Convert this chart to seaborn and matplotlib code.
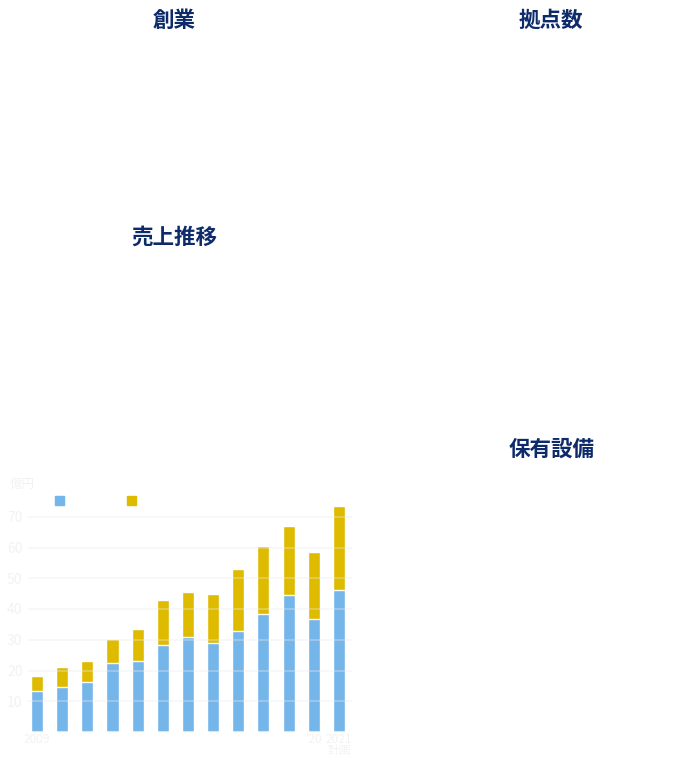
import matplotlib
matplotlib.use("Agg")
import matplotlib.pyplot as plt
import matplotlib.patches as mpatches
import seaborn as sns
import pandas as pd

years = ["2009", "2010", "2011", "2012", "2013", "2014", "2015",
         "2016", "2017", "2018", "2019", "2020", "2021"]
tick_labels = ["2009", "", "", "", "", "", "", "", "", "", "", "'20", "2021\n計画"]
blue_vals = [13.3, 14.7, 16.4, 22.5, 23.1, 28.3, 30.9, 29.0, 32.9, 38.5, 44.4, 36.6, 46.3]
total_vals = [18.2, 21.2, 23.1, 30.3, 33.5, 43.0, 45.6, 44.9, 53.1, 60.6, 67.1, 58.6, 73.6]
y_ticks = [10, 20, 30, 40, 50, 60, 70]
titles = ["創業", "拠点数", "売上推移", "保有設備"]

sns.set_theme(style="white")
plt.rcParams["font.family"] = ["Noto Sans CJK JP", "DejaVu Sans"]

BLUE = "#74b5ea"
YELLOW = "#dfbb00"
NAVY = "#0d2a6a"
FAINT = "#f2f2f2"

W, H = 687, 757
fig = plt.figure(figsize=(W / 100, H / 100), dpi=100)
fig.patch.set_facecolor("white")

left, right, top, bottom = 28, 352, 486, 732
ax = fig.add_axes([left / W, (H - bottom) / H, (right - left) / W, (bottom - top) / H])
ax.set_facecolor("white")

df = pd.DataFrame({"year": years, "blue": blue_vals, "total": total_vals})
sns.barplot(data=df, x="year", y="total", color=YELLOW, width=0.48,
            saturation=1, ax=ax, zorder=2)
sns.barplot(data=df, x="year", y="blue", color=BLUE, width=0.48,
            saturation=1, ax=ax, zorder=3)

ax.set_xlim(-0.36, 12.52)
ax.set_ylim(0, 80)
for v in y_ticks:
    ax.axhline(v, color="#eaeaea", alpha=0.4, lw=1.2, zorder=5)
ax.axhline(0, color="#ffffff", alpha=0.6, lw=1.5, zorder=5)

ax.set_yticks(y_ticks)
ax.set_yticklabels([str(v) for v in y_ticks], color=FAINT, fontsize=10)
ax.tick_params(axis="y", length=0, pad=4)
ax.set_xticks(range(len(years)))
ax.set_xticklabels(tick_labels, color=FAINT, fontsize=8.5, linespacing=0.8)
ax.tick_params(axis="x", length=0, pad=1)
ax.set_xlabel("")
ax.set_ylabel("")
for s in ax.spines.values():
    s.set_visible(False)

fig.text(10 / W, 1 - 484 / H, "億円", color=FAINT, fontsize=9, va="center", ha="left")

handles = [mpatches.Patch(color=BLUE), mpatches.Patch(color=YELLOW)]
fig.legend(handles, [" ", " "], loc="center left",
           bbox_to_anchor=(44 / W, 1 - 501.5 / H), ncol=2, frameon=False,
           handlelength=0.7, handleheight=0.7, columnspacing=4.5,
           handletextpad=0.3, fontsize=9)

pos = [(174, 20), (551, 20), (174, 237), (552, 449)]
for t, (x, y) in zip(titles, pos):
    fig.text(x / W, 1 - y / H, t, color=NAVY, fontsize=15.5, fontweight="bold",
             ha="center", va="center")

fig.savefig("out.png", dpi=100, facecolor="white")
